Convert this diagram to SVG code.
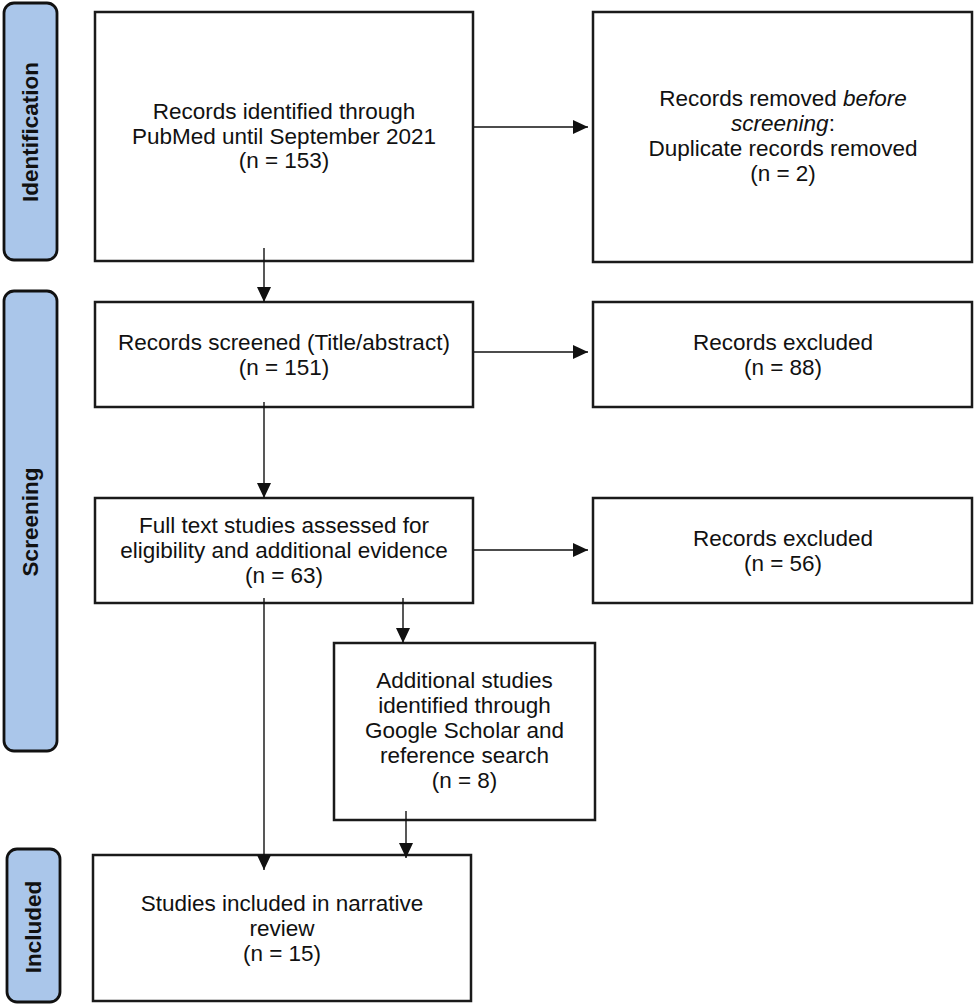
<svg xmlns="http://www.w3.org/2000/svg" width="977" height="1007" viewBox="0 0 977 1007">
<style>
.box{fill:#ffffff;stroke:#1a1a1a;stroke-width:2.5}
.side{fill:#aac6ea;stroke:#111111;stroke-width:2.8}
.t{font-family:"Liberation Sans",Arial,Helvetica,sans-serif;font-size:22.5px;fill:#111111;text-anchor:middle}
.s{font-family:"Liberation Sans",Arial,Helvetica,sans-serif;font-size:22.5px;font-weight:bold;fill:#111111;text-anchor:middle}
.c{fill:none;stroke:#111111;stroke-width:1.4}
</style>
<defs>
<marker id="ah" markerUnits="userSpaceOnUse" markerWidth="16" markerHeight="14" refX="15" refY="7" orient="auto">
<path d="M0,0 L15,7 L0,14 z" fill="#111111"/>
</marker>
</defs>
<rect width="977" height="1007" fill="#ffffff"/>
<g id="side-identification">
<rect class="side" x="4" y="3" width="53" height="257" rx="10"/>
<text class="s" transform="translate(38,132) rotate(-90)">Identification</text>
</g>
<g id="side-screening">
<rect class="side" x="4" y="291" width="53" height="460" rx="10"/>
<text class="s" transform="translate(38,522) rotate(-90)">Screening</text>
</g>
<g id="side-included">
<rect class="side" x="7" y="849" width="53" height="153" rx="10"/>
<text class="s" transform="translate(41,927) rotate(-90)">Included</text>
</g>
<g id="n-identified">
<rect class="box" x="95" y="12" width="378" height="249"/>
<text class="t" x="284" y="119">Records identified through</text>
<text class="t" x="284" y="143.5">PubMed until September 2021</text>
<text class="t" x="284" y="168">(n = 153)</text>
</g>
<g id="n-removed">
<rect class="box" x="593" y="12" width="379" height="250"/>
<text class="t" x="783" y="106">Records removed <tspan font-style="italic">before</tspan></text>
<text class="t" x="783" y="131"><tspan font-style="italic">screening</tspan>:</text>
<text class="t" x="783" y="156">Duplicate records removed</text>
<text class="t" x="783" y="181">(n = 2)</text>
</g>
<g id="n-screened">
<rect class="box" x="95" y="302" width="378" height="105"/>
<text class="t" x="284" y="350">Records screened (Title/abstract)</text>
<text class="t" x="284" y="375">(n = 151)</text>
</g>
<g id="n-excluded1">
<rect class="box" x="593" y="302" width="379" height="105"/>
<text class="t" x="783" y="350">Records excluded</text>
<text class="t" x="783" y="375">(n = 88)</text>
</g>
<g id="n-fulltext">
<rect class="box" x="95" y="498" width="378" height="105"/>
<text class="t" x="284" y="533">Full text studies assessed for</text>
<text class="t" x="284" y="558">eligibility and additional evidence</text>
<text class="t" x="284" y="583">(n = 63)</text>
</g>
<g id="n-excluded2">
<rect class="box" x="593" y="498" width="379" height="105"/>
<text class="t" x="783" y="546">Records excluded</text>
<text class="t" x="783" y="571">(n = 56)</text>
</g>
<g id="n-additional">
<rect class="box" x="334" y="643" width="261" height="177"/>
<text class="t" x="464.5" y="688">Additional studies</text>
<text class="t" x="464.5" y="713">identified through</text>
<text class="t" x="464.5" y="738">Google Scholar and</text>
<text class="t" x="464.5" y="763">reference search</text>
<text class="t" x="464.5" y="788">(n = 8)</text>
</g>
<g id="n-included">
<rect class="box" x="93" y="855" width="378" height="146"/>
<text class="t" x="282" y="911">Studies included in narrative</text>
<text class="t" x="282" y="936">review</text>
<text class="t" x="282" y="961">(n = 15)</text>
</g>
<g id="connectors">
<line class="c" x1="264" y1="248" x2="264" y2="302" marker-end="url(#ah)"/>
<line class="c" x1="474" y1="127" x2="588" y2="127" marker-end="url(#ah)"/>
<line class="c" x1="264" y1="402" x2="264" y2="498" marker-end="url(#ah)"/>
<line class="c" x1="474" y1="352" x2="588" y2="352" marker-end="url(#ah)"/>
<line class="c" x1="474" y1="550" x2="588" y2="550" marker-end="url(#ah)"/>
<line class="c" x1="403" y1="598" x2="403" y2="643" marker-end="url(#ah)"/>
<line class="c" x1="264" y1="598" x2="264" y2="870" marker-end="url(#ah)"/>
<line class="c" x1="406" y1="811" x2="406" y2="858" marker-end="url(#ah)"/>
</g>
</svg>
